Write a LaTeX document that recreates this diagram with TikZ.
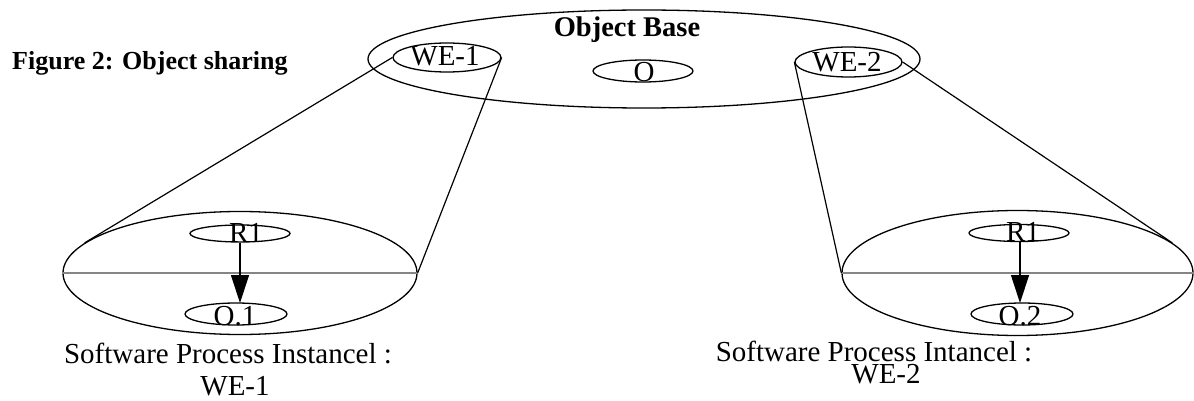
\documentclass[tikz,border=0pt]{standalone}
\usepackage{fontspec}
\setmainfont{Liberation Serif}
\usetikzlibrary{shapes.geometric,arrows.meta}
\tikzset{
  oval/.style={draw, ellipse, line width=1.3pt, inner sep=0pt},
  lbl/.style={inner sep=0pt, anchor=base, font=\fontsize{29}{34}\selectfont},
  conn/.style={line width=1.2pt},
  divider/.style={line width=2.4pt, draw=black!48},
  flow/.style={line width=1.2pt, -{Triangle[length=28pt,width=18pt]}},
}
\begin{document}
\begin{tikzpicture}[x=1pt,y=-1pt]
\useasboundingbox (0,0) rectangle (1194,401);
% title
\node[inner sep=0pt, anchor=base west, font=\fontsize{26}{30}\selectfont\bfseries] (title) at (12,70) {Figure 2: Object sharing};
% object base
\node[oval, minimum width=552pt, minimum height=98pt] (base) at (644,59) {};
\node[lbl, font=\fontsize{28.5}{34}\selectfont\bfseries] (basetxt) at (627,37) {Object Base};
\node[oval, minimum width=108pt, minimum height=29pt] (we1) at (447,57.5) {};
\node[lbl] (we1txt) at (445,66) {WE-1};
\node[oval, minimum width=100pt, minimum height=22pt] (o) at (643,71) {};
\node[lbl] (otxt) at (644,82) {O};
\node[oval, minimum width=107pt, minimum height=30pt] (we2) at (848.5,62) {};
\node[lbl] (we2txt) at (847,72) {WE-2};
% lower left
\node[oval, minimum width=354pt, minimum height=123pt] (low1) at (240,273) {};
\draw[divider] (low1.west) -- (low1.east);
\node[oval, minimum width=100pt, minimum height=17pt] (r1a) at (240,233.5) {};
\node[lbl] (r1atxt) at (246,242) {R1};
\node[oval, minimum width=102pt, minimum height=22pt] (o1) at (236,314) {};
\node[lbl] (o1txt) at (235,325) {O.1};
\draw[flow] (r1a.south) -- (240,303) coordinate (o1top);
% lower right
\node[oval, minimum width=351pt, minimum height=125pt] (low2) at (1017.5,273) {};
\draw[divider] (low2.west) -- (low2.east);
\node[oval, minimum width=100pt, minimum height=17pt] (r1b) at (1019,233) {};
\node[lbl] (r1btxt) at (1023,241) {R1};
\node[oval, minimum width=102pt, minimum height=22pt] (o2) at (1022,314) {};
\node[lbl] (o2txt) at (1020,325) {O.2};
\draw[flow] (1020,241.5) coordinate (r1bbot) -- (1020,303) coordinate (o2top);
% connectors
\draw[conn] (we1.west) -- (low1.169);
\draw[conn] (we1.east) -- (low1.east);
\draw[conn] (we2.west) -- (low2.west);
\draw[conn] (we2.east) -- (low2.11);
% captions
\node[lbl] (cap1) at (228,363) {Software Process Instancel :};
\node[lbl] (cap1b) at (235,395) {WE-1};
\node[lbl] (cap2) at (874,361) {Software Process Intancel :};
\node[lbl] (cap2b) at (886,383) {WE-2};
\end{tikzpicture}
\end{document}
